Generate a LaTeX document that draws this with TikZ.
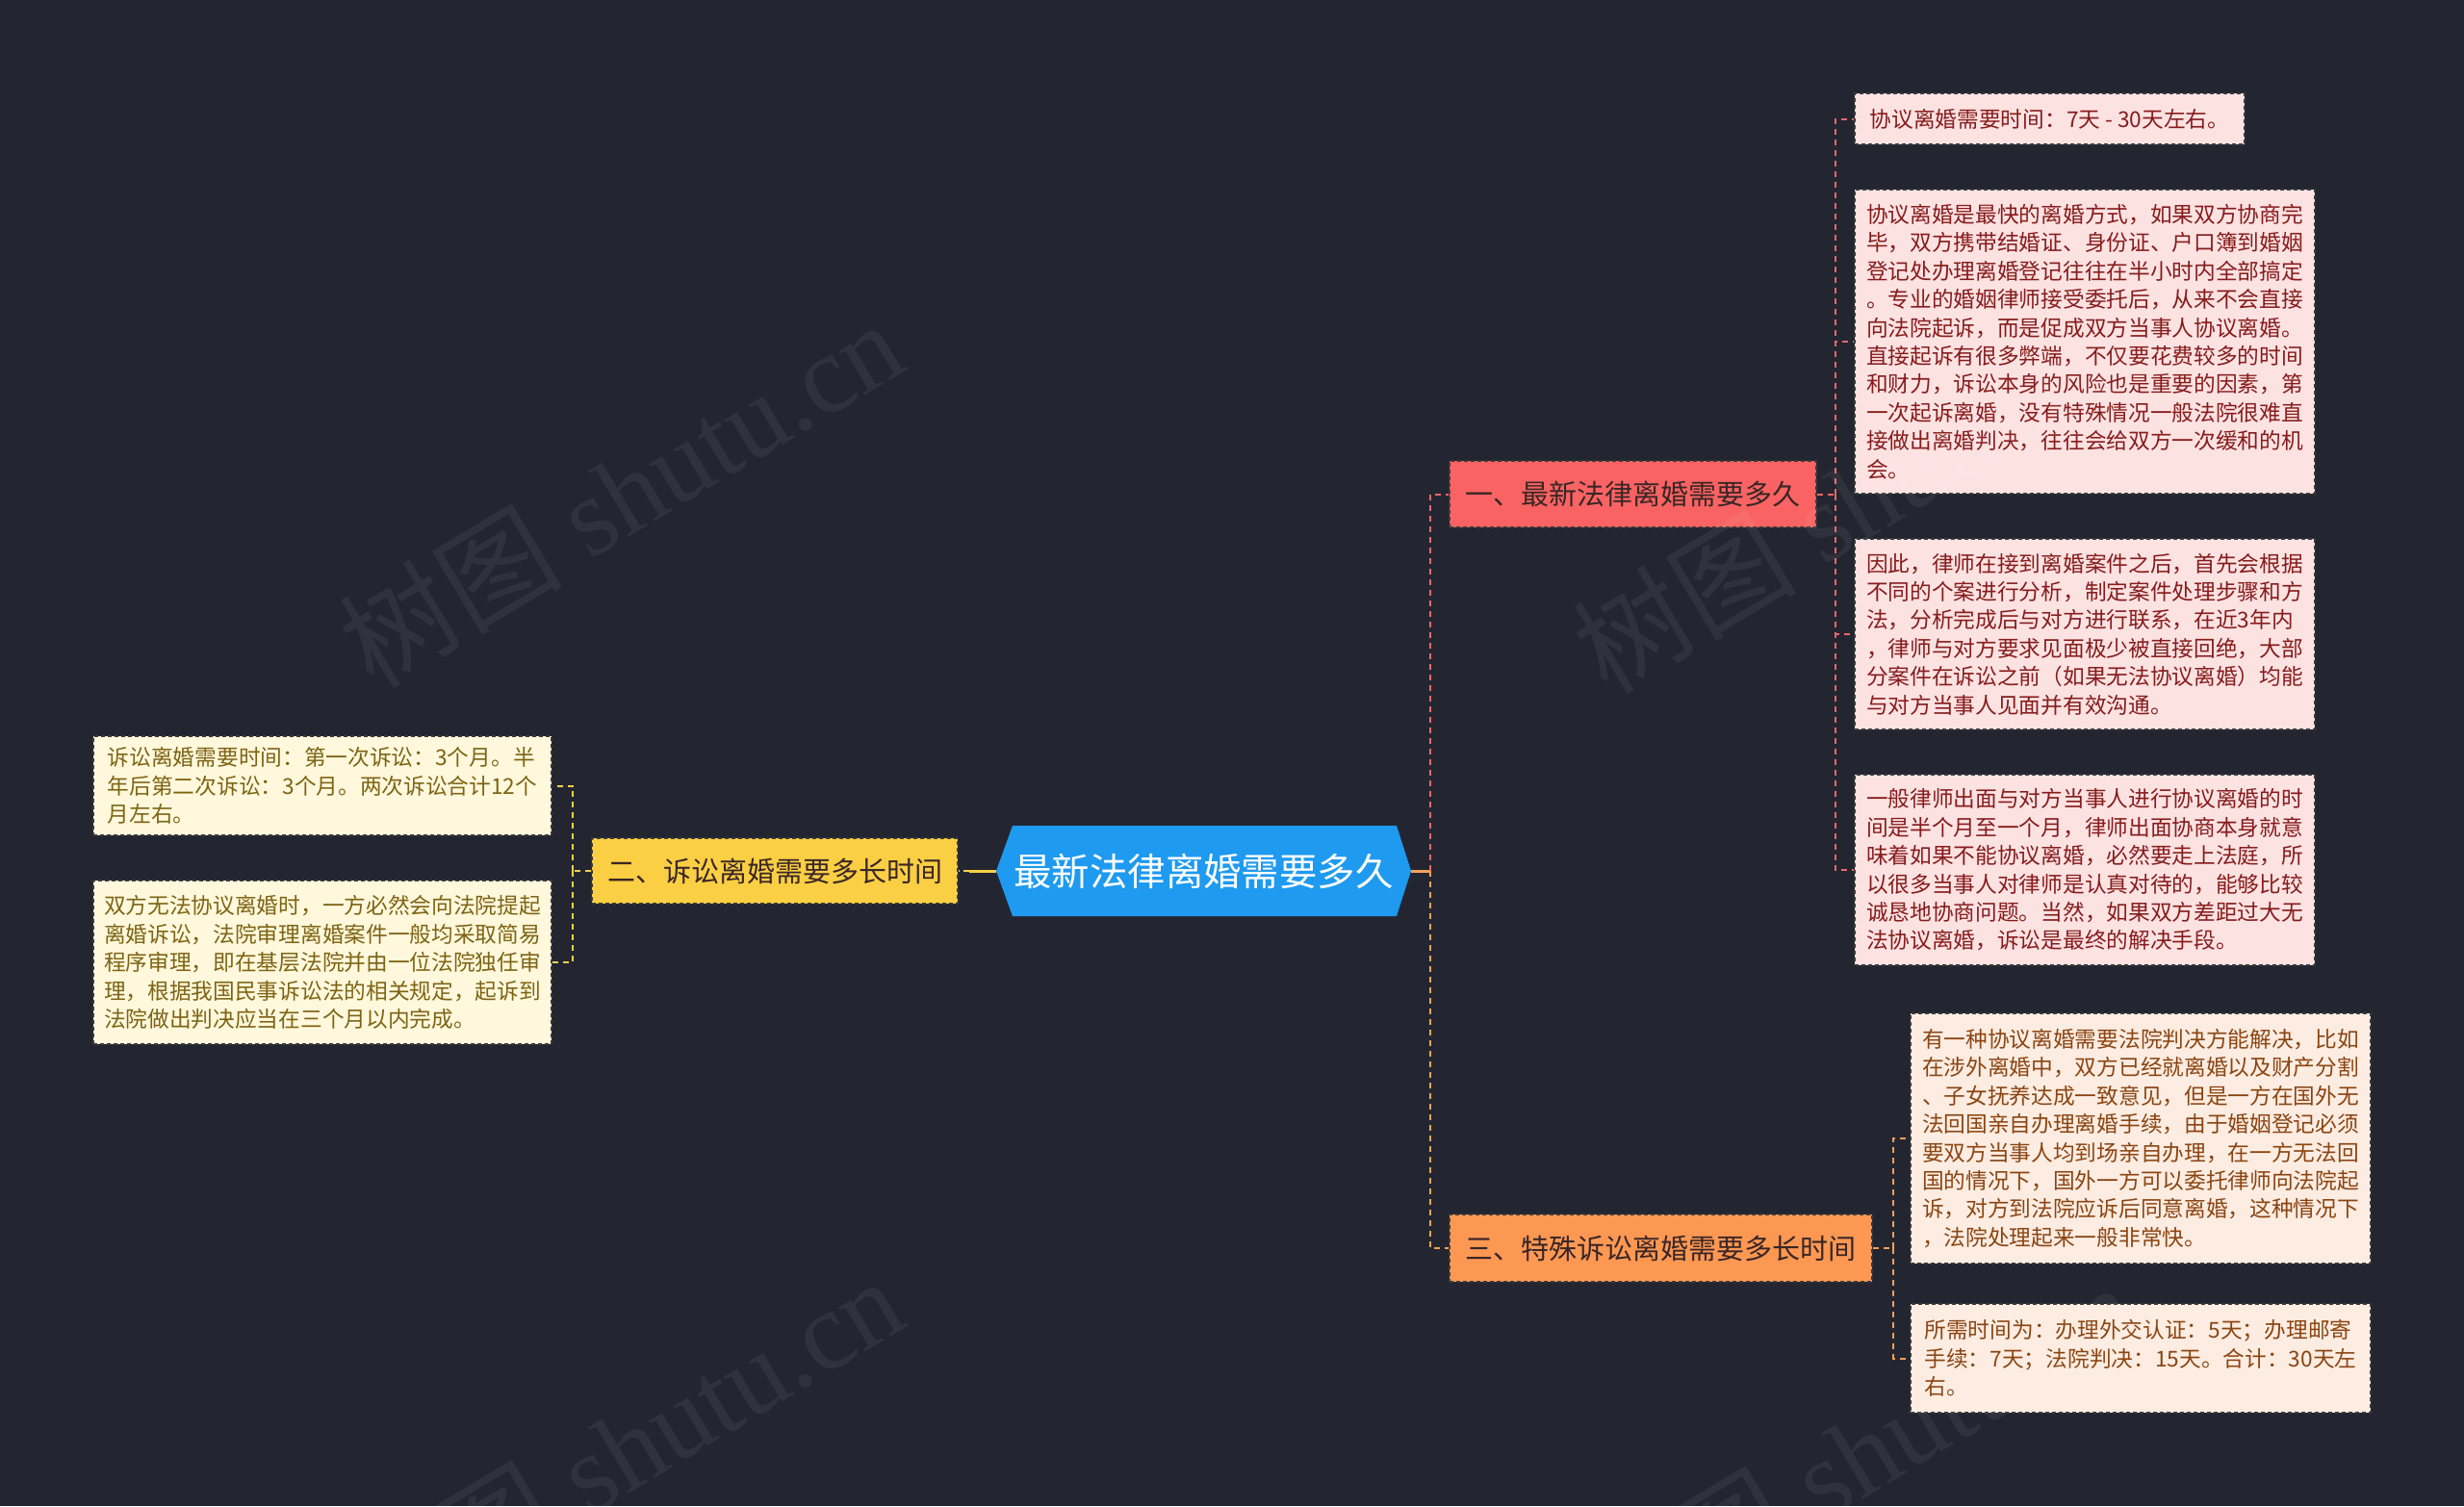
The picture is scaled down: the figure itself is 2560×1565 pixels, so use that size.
\documentclass[tikz,border=0pt]{standalone}
\usepackage{fontspec}
\setmainfont{Noto Sans CJK SC}
\newfontfamily\wmfont{Liberation Serif}
\newfontfamily\wmcjk{Noto Sans CJK SC}
\definecolor{bg}{HTML}{232630}
\definecolor{rootblue}{HTML}{1E9AF0}
\definecolor{lonefill}{HTML}{F96363}
\definecolor{lthreefill}{HTML}{FD9853}
\definecolor{ltwofill}{HTML}{FACF43}
\definecolor{ltext}{HTML}{3A2626}
\definecolor{rfill}{HTML}{FDE2E2}
\definecolor{rtext}{HTML}{861C1C}
\definecolor{ofill}{HTML}{FDECE1}
\definecolor{otext}{HTML}{8A4512}
\definecolor{yfill}{HTML}{FFF8DC}
\definecolor{ytext}{HTML}{7D6414}
\definecolor{boxline}{HTML}{3A3A3A}
\definecolor{redline}{HTML}{E8686A}
\definecolor{orangeline}{HTML}{F5A05A}
\definecolor{yellowline}{HTML}{F5D246}
\begin{document}
\begin{tikzpicture}[x=0.5pt,y=-0.5pt,
  box/.style={draw=boxline, line width=0.75pt, dash pattern=on 2pt off 1.5pt, inner sep=0pt, align=left},
  lvl/.style={box, text=ltext, font=\fontsize{14.5}{17}\selectfont},
  leaf/.style={box, font=\fontsize{11.35}{14.7}\selectfont},
  rleaf/.style={leaf, fill=rfill, text=rtext},
  oleaf/.style={leaf, fill=ofill, text=otext},
  yleaf/.style={leaf, fill=yfill, text=ytext},
  wide/.style={minimum width=239pt},
  conn/.style={line width=1pt, dash pattern=on 3pt off 2.5pt},
  rconn/.style={conn, draw=redline},
  oconn/.style={conn, draw=orangeline},
  yconn/.style={conn, draw=yellowline},
  solidconn/.style={line width=1.5pt},
  wm/.style={rotate=31, text=white, opacity=0.06, font=\wmfont\fontsize{58}{60}\selectfont}
]
\useasboundingbox (0,0) rectangle (2560,1565);
\fill[bg] (0,0) rectangle (2560,1565);

% central node
\fill[rootblue] (1035,905) -- (1052,858) -- (1451,858) -- (1466,905) -- (1451,952) -- (1052,952) -- cycle;
\node[inner sep=0pt, minimum width=215.5pt, minimum height=47pt, text=white, font=\fontsize{19.7}{22}\selectfont] (root) at (1250.5,905) {最新法律离婚需要多久};

% level one
\node[lvl, fill=lonefill, minimum width=190.5pt, minimum height=34.5pt] (L1) at (1696.5,513.5) {一、最新法律离婚需要多久};
\node[lvl, fill=lthreefill, minimum width=219.5pt, minimum height=35pt] (L3) at (1725.5,1297) {三、特殊诉讼离婚需要多长时间};
\node[lvl, fill=ltwofill, minimum width=190pt, minimum height=34pt] (L2) at (805,905) {二、诉讼离婚需要多长时间};

% red leaves
\node[rleaf, minimum width=202.5pt, minimum height=26.5pt] (R1) at (2129.5,123.5) {协议离婚需要时间：7天 - 30天左右。};
\node[rleaf, wide, minimum height=158pt] (R2) at (2166,355) {协议离婚是最快的离婚方式，如果双方协商完\\毕，双方携带结婚证、身份证、户口簿到婚姻\\登记处办理离婚登记往往在半小时内全部搞定\\。专业的婚姻律师接受委托后，从来不会直接\\向法院起诉，而是促成双方当事人协议离婚。\\直接起诉有很多弊端，不仅要花费较多的时间\\和财力，诉讼本身的风险也是重要的因素，第\\一次起诉离婚，没有特殊情况一般法院很难直\\接做出离婚判决，往往会给双方一次缓和的机\\会。};
\node[rleaf, wide, minimum height=99pt] (R3) at (2166,659) {因此，律师在接到离婚案件之后，首先会根据\\不同的个案进行分析，制定案件处理步骤和方\\法，分析完成后与对方进行联系，在近3年内\\，律师与对方要求见面极少被直接回绝，大部\\分案件在诉讼之前（如果无法协议离婚）均能\\与对方当事人见面并有效沟通。};
\node[rleaf, wide, minimum height=99pt] (R4) at (2166,904) {一般律师出面与对方当事人进行协议离婚的时\\间是半个月至一个月，律师出面协商本身就意\\味着如果不能协议离婚，必然要走上法庭，所\\以很多当事人对律师是认真对待的，能够比较\\诚恳地协商问题。当然，如果双方差距过大无\\法协议离婚，诉讼是最终的解决手段。};

% orange leaves
\node[oleaf, wide, minimum height=130pt] (O1) at (2224,1183) {有一种协议离婚需要法院判决方能解决，比如\\在涉外离婚中，双方已经就离婚以及财产分割\\、子女抚养达成一致意见，但是一方在国外无\\法回国亲自办理离婚手续，由于婚姻登记必须\\要双方当事人均到场亲自办理，在一方无法回\\国的情况下，国外一方可以委托律师向法院起\\诉，对方到法院应诉后同意离婚，这种情况下\\，法院处理起来一般非常快。};
\node[oleaf, wide, minimum height=56.5pt] (O2) at (2224,1411.5) {所需时间为：办理外交认证：5天；办理邮寄\\手续：7天；法院判决：15天。合计：30天左\\右。};

% yellow leaves
\node[yleaf, minimum width=238pt, minimum height=51.5pt] (Y1) at (335,816.5) {诉讼离婚需要时间：第一次诉讼：3个月。半\\年后第二次诉讼：3个月。两次诉讼合计12个\\月左右。};
\node[yleaf, minimum width=238pt, minimum height=85pt] (Y2) at (335,1000) {双方无法协议离婚时，一方必然会向法院提起\\离婚诉讼，法院审理离婚案件一般均采取简易\\程序审理，即在基层法院并由一位法院独任审\\理，根据我国民事诉讼法的相关规定，起诉到\\法院做出判决应当在三个月以内完成。};

% junction points
\coordinate (jr) at (1486,905);
\coordinate (jl) at (1007,905);
\coordinate (jy) at (595,905);
\coordinate (jR) at (1907,513.5);
\coordinate (jO) at (1967,1297);

% connectors
\draw[solidconn, draw=orangeline] (root.east) -- (jr);
\draw[rconn] (jr) |- (L1.west);
\draw[oconn] (jr) |- (L3.west);
\draw[solidconn, draw=yellowline] (root.west) -- (jl);
\draw[yconn] (jl) -- (L2.east);
\draw[yconn] (L2.west) -- (jy);
\draw[yconn] (jy) |- (Y1.east);
\draw[yconn] (jy) |- (Y2.east);
\draw[rconn] (L1.east) -- (jR);
\draw[rconn] (jR) |- (R1.west);
\draw[rconn] (jR) |- (R2.west);
\draw[rconn] (jR) |- (R3.west);
\draw[rconn] (jR) |- (R4.west);
\draw[oconn] (L3.east) -- (jO);
\draw[oconn] (jO) |- (O1.west);
\draw[oconn] (jO) |- (O2.west);

% watermarks
\node[wm] (wmA) at (645,512) {{\wmcjk 树图} shutu.cn};
\node[wm] (wmB) at (1927,518) {{\wmcjk 树图} shutu.cn};
\node[wm] (wmC) at (645,1506) {{\wmcjk 树图} shutu.cn};
\node[wm] (wmD) at (1927,1512) {{\wmcjk 树图} shutu.cn};
\end{tikzpicture}
\end{document}
